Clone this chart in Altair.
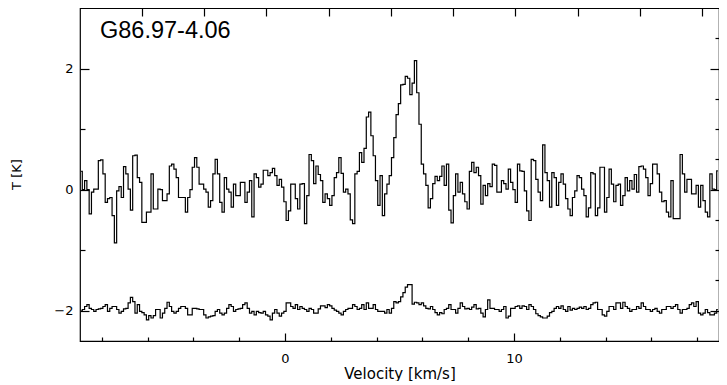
import altair as alt
import pandas as pd

TITLE = "G86.97-4.06"
X_TITLE = "Velocity [km/s]"
Y_TITLE = "T [K]"

# channel grid of the spectrum (km/s)
V_START = -8.9
DV = 0.1

# upper spectrum (K), one value per channel
upper = [
    0.30, 0.00, 0.15, 0.00, -0.40, -0.04, 0.01, 0.01, 0.48, 0.49, 0.26, -0.21, -0.15, -0.13, -0.43, -0.88, -0.02, 0.05, -0.13, 0.38,
    0.26, 0.01, -0.34, 0.56, 0.57, 0.20, 0.12, -0.54, -0.54, -0.37, -0.37, 0.26, -0.32, -0.32, 0.01, 0.00, -0.18, -0.18, -0.07, 0.39,
    0.42, 0.34, 0.20, -0.13, -0.13, -0.13, -0.37, -0.13, 0.00, 0.37, 0.53, 0.37, 0.09, 0.09, 0.01, -0.04, -0.29, -0.18, 0.26, 0.50,
    0.26, -0.21, -0.37, 0.20, 0.01, -0.04, -0.29, 0.09, -0.10, -0.10, 0.12, 0.12, -0.21, -0.04, 0.15, -0.45, 0.26, 0.20, 0.04, 0.09,
    0.32, 0.32, 0.23, 0.28, 0.35, 0.23, 0.07, 0.17, 0.04, -0.20, -0.51, -0.35, 0.09, 0.09, -0.15, -0.32, 0.09, 0.10, -0.56, -0.10,
    0.58, 0.48, 0.10, 0.39, 0.25, 0.15, -0.21, -0.07, -0.15, -0.26, -0.10, 0.20, 0.28, 0.53, 0.27, -0.04, 0.01, -0.07, -0.50, -0.56,
    0.26, 0.30, 0.61, 0.45, 0.68, 1.20, 1.28, 0.89, 0.56, 0.15, -0.26, 0.23, -0.43, -0.07, 0.09, 0.23, 0.53, 0.86, 1.24, 1.42,
    1.73, 1.74, 1.87, 1.84, 1.57, 1.76, 2.13, 1.60, 1.08, 0.42, 0.26, 0.07, -0.30, -0.15, 0.10, 0.22, 0.15, 0.22, 0.39, 0.07,
    0.42, -0.34, -0.55, -0.10, 0.26, -0.04, 0.12, -0.07, -0.20, -0.32, 0.30, 0.45, 0.28, 0.37, 0.23, -0.24, 0.07, -0.10, 0.10, 0.05,
    0.42, 0.40, -0.04, -0.04, 0.15, 0.10, 0.01, 0.34, 0.12, 0.00, -0.21, 0.42, 0.31, 0.30, -0.02, -0.35, -0.51, 0.50, 0.48, 0.17,
    -0.04, -0.18, 0.74, 0.28, 0.15, -0.29, 0.28, 0.20, -0.26, 0.12, 0.26, 0.09, -0.15, -0.32, -0.43, -0.13, -0.02, 0.23, 0.20, 0.01,
    -0.10, -0.45, -0.30, 0.28, 0.26, -0.43, -0.30, 0.37, 0.37, -0.37, -0.13, 0.34, 0.09, -0.20, 0.07, 0.09, -0.26, -0.10, 0.20, -0.02,
    0.15, 0.01, 0.25, -0.04, 0.38, 0.39, 0.34, 0.20, -0.10, 0.10, 0.42, 0.42, 0.26, -0.04, -0.20, -0.18, -0.37, -0.45, 0.15, -0.48,
    -0.48, -0.48, 0.58, 0.26, -0.04, 0.17, 0.17, -0.07, -0.07, 0.07, -0.29, 0.07, -0.18, -0.37, -0.45, 0.26, 0.01, 0.00, 0.31,
]

# lower spectrum (K, plotted with its -2 K offset), one value per channel
lower = [
    -2.00, -1.98, -1.93, -1.90, -1.96, -1.98, -2.01, -1.98, -1.97, -1.96, -1.93, -1.90, -2.01, -1.96, -1.93, -1.93, -1.98, -2.04, -2.01, -1.97,
    -1.96, -1.87, -1.78, -1.85, -2.04, -1.90, -2.01, -2.03, -2.07, -2.15, -2.08, -2.12, -2.08, -1.98, -1.98, -2.12, -2.04, -1.96, -1.86, -1.93,
    -2.01, -2.04, -2.01, -1.96, -1.93, -1.93, -1.96, -2.07, -2.07, -1.96, -1.96, -1.97, -1.98, -1.98, -2.07, -2.12, -2.10, -2.09, -2.08, -2.01,
    -1.98, -2.04, -2.07, -2.04, -1.96, -1.90, -1.93, -2.01, -1.98, -1.97, -1.96, -1.90, -1.87, -1.96, -2.04, -2.01, -2.07, -2.01, -2.03, -2.04,
    -2.01, -2.07, -2.09, -2.15, -2.04, -1.98, -2.04, -2.09, -2.04, -2.01, -1.87, -1.87, -1.93, -1.96, -1.90, -1.98, -1.93, -1.96, -1.98, -2.01,
    -1.96, -1.98, -2.04, -2.04, -1.97, -1.92, -1.92, -1.95, -1.90, -1.92, -1.96, -1.99, -2.01, -2.04, -2.07, -2.01, -1.98, -1.96, -1.96, -1.90,
    -1.93, -1.98, -1.96, -1.90, -1.98, -1.87, -1.96, -1.96, -1.90, -1.98, -2.01, -2.01, -2.01, -2.04, -1.98, -2.04, -1.96, -1.85, -1.87, -1.85,
    -1.77, -1.70, -1.61, -1.57, -1.57, -1.89, -1.86, -1.87, -1.90, -1.87, -1.92, -1.96, -1.97, -1.93, -1.98, -2.03, -2.07, -2.03, -2.05, -1.98,
    -1.96, -1.90, -1.98, -1.98, -2.04, -1.96, -1.87, -1.93, -1.97, -1.96, -1.98, -1.94, -1.90, -1.97, -1.96, -2.04, -2.10, -1.98, -1.82, -1.96,
    -1.96, -1.98, -1.98, -2.01, -1.98, -1.93, -2.12, -2.09, -1.96, -1.96, -1.93, -1.92, -1.96, -1.92, -1.93, -1.98, -1.90, -1.93, -1.98, -2.05,
    -2.08, -2.10, -2.12, -2.12, -2.09, -2.03, -2.01, -1.96, -1.93, -1.96, -1.92, -1.98, -2.01, -1.93, -1.99, -1.96, -1.98, -1.96, -1.94, -1.96,
    -1.93, -1.98, -1.96, -1.90, -1.87, -1.86, -1.98, -1.98, -2.07, -2.09, -2.01, -1.93, -1.93, -1.98, -1.87, -1.87, -1.96, -1.86, -1.93, -1.96,
    -2.01, -1.98, -1.98, -1.93, -1.96, -1.87, -1.93, -1.98, -1.98, -2.01, -1.98, -1.96, -2.01, -2.04, -1.98, -1.98, -1.93, -1.93, -1.96, -1.93,
    -1.90, -1.98, -2.04, -1.98, -1.98, -1.96, -1.90, -1.87, -1.93, -1.85, -2.04, -2.07, -2.04, -1.98, -2.03, -2.07, -2.07, -2.04, -1.98,
]

X_DOMAIN = [-8.95, 18.95]
Y_DOMAIN = [-2.5, 3.0]
X_TICKS = [-8, -6, -4, -2, 0, 2, 4, 6, 8, 10, 12, 14, 16, 18]
Y_TICKS = [-2.0, -1.5, -1.0, -0.5, 0.0, 0.5, 1.0, 1.5, 2.0, 2.5]
# unlabelled frequency ticks along the top edge (1 MHz apart)
TOP_TICK0 = -6.26
TOP_STEP = 2.72
TOP_TICKS = [0, 1, 2, 3, 4, 5, 6, 7, 8, 9]

velocity = [round(V_START + DV * i, 3) for i in range(len(upper))]
df = pd.concat([
    pd.DataFrame({"v": velocity, "T": upper, "series": "upper"}),
    pd.DataFrame({"v": velocity, "T": lower, "series": "lower"}),
])

top_domain = [(X_DOMAIN[0] - TOP_TICK0) / TOP_STEP, (X_DOMAIN[1] - TOP_TICK0) / TOP_STEP]
ghost_df = pd.DataFrame({"u": top_domain, "T": Y_DOMAIN})

FONT = "DejaVu Sans"


def tsize(test, major, minor):
    return {"condition": {"test": test, "value": major}, "value": minor}


x_axis = alt.Axis(
    values=X_TICKS, orient="bottom", title=X_TITLE,
    labelExpr="datum.value % 10 === 0 ? datum.label : ''",
    tickSize=tsize("datum.value % 10 === 0", -8, -4),
    labelPadding=19, titlePadding=1, titleFontSize=15,
    domain=False, grid=False, format="d",
)
y_axis = alt.Axis(
    values=Y_TICKS, orient="left", title=Y_TITLE,
    labelExpr="abs(datum.value % 2) < 0.01 ? datum.label : ''",
    tickSize=tsize("abs(datum.value % 2) < 0.01", -9, -5),
    labelPadding=16, titleX=-57, titleY=166, titleFontSize=13,
    domain=False, grid=False, format="d",
)

line = alt.Chart(df).mark_line(interpolate="step", color="black", strokeWidth=1.2).encode(
    x=alt.X("v:Q", scale=alt.Scale(domain=X_DOMAIN, nice=False, zero=False), axis=x_axis),
    y=alt.Y("T:Q", scale=alt.Scale(domain=Y_DOMAIN, nice=False, zero=False), axis=y_axis),
    detail="series:N",
)

ghost = alt.Chart(ghost_df).mark_point(opacity=0).encode(
    x=alt.X("u:Q", scale=alt.Scale(domain=top_domain, nice=False, zero=False),
            axis=alt.Axis(values=TOP_TICKS, orient="top", labels=False, title=None,
                          tickSize=tsize("datum.value >= 0", -8, -8), domain=False, grid=False)),
    y=alt.Y("T:Q", scale=alt.Scale(domain=Y_DOMAIN, nice=False, zero=False),
            axis=alt.Axis(values=Y_TICKS, orient="right", labels=False, title=None,
                          tickSize=tsize("abs(datum.value % 2) < 0.01", -9, -4),
                          domain=False, grid=False)),
)

chart = alt.layer(line, ghost).resolve_scale(x="independent", y="independent").properties(
    width=639, height=333,
    autosize=alt.AutoSizeParams(type="none"),
    padding={"left": 72, "top": 0, "right": 0, "bottom": 40},
    title=alt.TitleParams(text=TITLE, anchor="start", frame="group", orient="top", offset=0,
                          dx=20, dy=56, baseline="alphabetic", font="Liberation Sans",
                          fontSize=23.5, fontWeight="normal", color="black"),
).configure_view(stroke="black", strokeWidth=1.2).configure_axis(
    labelFont=FONT, labelFontSize=13, labelColor="black",
    titleFont=FONT, titleFontWeight="normal", titleColor="black",
    tickColor="black", tickWidth=1.2,
)

chart.save("out.html", embed_options={"renderer": "svg", "actions": False})
